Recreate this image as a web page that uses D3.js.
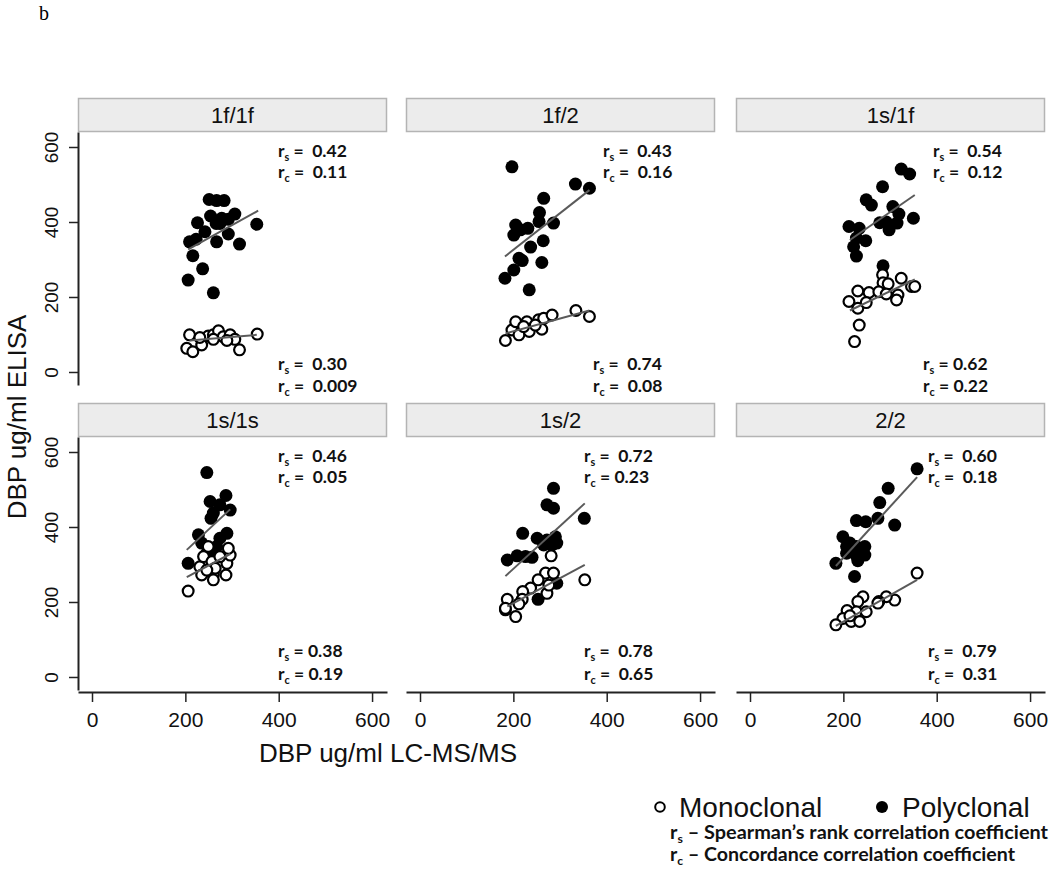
<!DOCTYPE html>
<html><head><meta charset="utf-8">
<script src="https://cdn.jsdelivr.net/npm/d3@7"></script>
<style>body{margin:0;background:#fff}text{white-space:pre}</style>
</head><body>
<svg id="c" width="1050" height="878"></svg>
<script>
// ---------------- DATA ----------------
const panels = ["1f/1f","1f/2","1s/1f","1s/1s","1s/2","2/2"];
const xTicks = [0,200,400,600];
const yTicks = [0,200,400,600];

const polyclonal = [
 [[251,460],[267,457],[283,457],[226,398],[254,416],[274,396],[292,407],[306,421],[353,394],[242,374],[209,347],[223,354],[267,347],[292,368],[316,341],[216,310],[237,275],[206,245],[260,211],[266,396],[278,410]],
 [[197,547],[333,501],[363,490],[265,463],[256,425],[255,401],[286,397],[205,392],[215,379],[231,383],[201,365],[264,350],[237,333],[212,303],[219,297],[261,292],[201,272],[182,250],[234,219]],
 [[324,541],[342,528],[284,494],[249,459],[260,445],[306,441],[319,421],[350,410],[278,398],[292,400],[315,397],[212,388],[234,383],[298,379],[248,350],[228,357],[222,334],[228,309],[285,283]],
 [[246,545],[287,484],[253,468],[274,459],[296,445],[260,437],[255,423],[289,383],[274,370],[228,379],[235,357],[253,343],[246,330],[260,321],[206,303],[267,348]],
 [[286,503],[272,459],[286,450],[352,423],[220,383],[251,370],[272,365],[290,374],[283,352],[293,357],[265,352],[187,312],[208,323],[226,321],[240,319],[253,207],[183,179],[293,250]],
 [[358,555],[296,503],[278,465],[228,417],[248,414],[274,423],[310,405],[199,374],[207,348],[214,357],[228,348],[246,348],[207,330],[228,323],[246,325],[231,310],[184,303],[224,268]]
];
const monoclonal = [
 [[209,99],[203,63],[216,54],[235,72],[249,96],[260,99],[271,110],[281,94],[296,99],[306,87],[316,59],[354,101],[231,92],[260,87],[289,84]],
 [[183,84],[197,112],[205,134],[212,99],[229,134],[234,108],[254,139],[261,114],[265,143],[283,152],[334,164],[363,148],[247,125],[222,121]],
 [[284,259],[285,238],[296,235],[324,250],[346,228],[353,228],[231,216],[255,212],[276,214],[292,208],[317,205],[314,192],[212,188],[231,170],[249,185],[234,125],[224,81]],
 [[206,229],[231,294],[235,272],[260,272],[260,259],[239,321],[257,308],[287,272],[289,303],[296,325],[292,343],[274,321],[264,290],[249,348],[246,285]],
 [[281,323],[269,277],[286,277],[253,259],[353,259],[237,237],[220,228],[272,223],[276,245],[187,207],[219,207],[212,195],[205,161],[183,183]],
 [[358,277],[310,205],[292,214],[276,201],[242,214],[231,201],[208,177],[228,174],[249,174],[199,156],[217,148],[235,148],[184,139],[214,163],[274,197]]
];
// fitted lines: [x1,y1,x2,y2]
const polyFit = [[206,327,356,430],[182,308,363,485],[214,352,353,472],[203,339,296,447],[183,269,353,463],[184,296,358,533]];
const monoFit = [[209,84,353,99],[183,103,363,164],[214,164,353,247],[203,266,296,328],[187,188,353,299],[184,136,358,259]];

const polyRs = ["0.42","0.43","0.54","0.46","0.72","0.60"];
const polyRc = ["0.11","0.16","0.12","0.05","0.23","0.18"];
const monoRs = ["0.30","0.74","0.62","0.38","0.78","0.79"];
const monoRc = ["0.009","0.08","0.22","0.19","0.65","0.31"];
const gapRs = ["  ","  ","  ","  ","  ","  "];
const gapRcTop = ["  ","  ","  ","  "," ","  "];
const gapBot = ["  ","  "," "," ","  ","  "];

// ---------------- LAYOUT ----------------
const colLeft = [78, 406, 736];
const rowTop = [132, 437];
const PW = 309, PH = 253, SH = 34;
const annX = [[200,200],[197,187],[197,187],[200,200],[178,178],[192,192]];
const annYTop = [25, 46];
const annYBot = [[238,260],[220,243]];

const svg = d3.select("#c");
const x = d3.scaleLinear().domain([-30, 632]).range([0, PW]);
const y = d3.scaleLinear().domain([-34.7, 640]).range([PH, 0]);
const SANS = "'Liberation Sans', Arial, sans-serif";
const CAL = "Lato, 'Open Sans', sans-serif";

svg.append("text").attr("x",39).attr("y",20).attr("font-family","'Liberation Serif', serif")
  .attr("font-size",20).text("b");

function label(sel, sub, gap, val){
  sel.append("tspan").text("r");
  sel.append("tspan").attr("font-size","0.62em").attr("dy",4).text(sub);
  sel.append("tspan").attr("dy",-4).text(" ="+gap+val);
}

panels.forEach((name,i)=>{
  const c = i%3, r = Math.floor(i/3);
  const g = svg.append("g").attr("transform",`translate(${colLeft[c]},${rowTop[r]})`);
  // strip
  g.append("rect").attr("x",0.5).attr("y",-SH+0.5).attr("width",PW-1).attr("height",SH-1)
    .attr("fill","#ececec").attr("stroke","#b4b4b4").attr("stroke-width",1.5);
  g.append("text").attr("x",PW/2).attr("y",-9).attr("text-anchor","middle")
    .attr("font-family",SANS).attr("font-size",22).attr("fill","#111").text(name);

  if(c===0){
    const ax = g.append("g").call(d3.axisLeft(y).tickValues(yTicks).tickSize(9).tickSizeOuter(0));
    ax.select(".domain").attr("stroke","#222").attr("stroke-width",2);
    ax.selectAll(".tick line").attr("stroke","#222").attr("stroke-width",1.5);
    ax.selectAll(".tick text").attr("x",null).attr("dy",null).attr("y",null)
      .attr("transform","translate(-20,0) rotate(-90)").attr("text-anchor","middle")
      .attr("font-family",SANS).attr("font-size",19).attr("fill","#111");
  }
  if(r===1){
    const ax = g.append("g").attr("transform",`translate(0,${PH+2})`)
      .call(d3.axisBottom(x).tickValues(xTicks).tickSize(10).tickSizeOuter(0));
    ax.select(".domain").attr("stroke","#222").attr("stroke-width",2);
    ax.selectAll(".tick line").attr("stroke","#222").attr("stroke-width",1.5);
    ax.selectAll(".tick text").attr("dy",null).attr("y",35)
      .attr("font-family",SANS).attr("font-size",21).attr("fill","#111");
  }

  g.selectAll("circle.p").data(polyclonal[i]).join("circle").attr("class","p")
    .attr("cx",d=>x(d[0])).attr("cy",d=>y(d[1])).attr("r",6.5).attr("fill","#000");
  g.selectAll("circle.m").data(monoclonal[i]).join("circle").attr("class","m")
    .attr("cx",d=>x(d[0])).attr("cy",d=>y(d[1])).attr("r",5.4)
    .attr("fill","#fff").attr("stroke","#000").attr("stroke-width",2.2);

  [polyFit[i], monoFit[i]].forEach(f=>{
    g.append("line").attr("x1",x(f[0])).attr("y1",y(f[1])).attr("x2",x(f[2])).attr("y2",y(f[3]))
      .attr("stroke","#5a5a5a").attr("stroke-width",2);
  });

  const ann = (xo, yo, sub, gap, val)=>{
    const t = g.append("text").attr("x",xo).attr("y",yo).attr("font-family",CAL)
      .attr("font-weight",700).attr("font-size",17.5).attr("fill","#111");
    label(t, sub, gap, val);
  };
  ann(annX[i][0], annYTop[0], "s", gapRs[i], polyRs[i]);
  ann(annX[i][0], annYTop[1], "c", gapRcTop[i], polyRc[i]);
  ann(annX[i][1], annYBot[r][0], "s", gapBot[i], monoRs[i]);
  ann(annX[i][1], annYBot[r][1], "c", gapBot[i], monoRc[i]);
});

// axis titles
svg.append("text").attr("transform","translate(26,417) rotate(-90)").attr("text-anchor","middle")
  .attr("font-family",SANS).attr("font-size",26).attr("fill","#111").text("DBP ug/ml ELISA");
svg.append("text").attr("x",388).attr("y",762).attr("text-anchor","middle")
  .attr("font-family",SANS).attr("font-size",26).attr("fill","#111").text("DBP ug/ml LC-MS/MS");

// legend
svg.append("circle").attr("cx",660).attr("cy",807).attr("r",4.8).attr("fill","#fff").attr("stroke","#000").attr("stroke-width",2);
svg.append("text").attr("x",679).attr("y",817).attr("font-family",SANS).attr("font-size",28).attr("fill","#111").text("Monoclonal");
svg.append("circle").attr("cx",882).attr("cy",807).attr("r",6).attr("fill","#000");
svg.append("text").attr("x",902).attr("y",817).attr("font-family",SANS).attr("font-size",28).attr("fill","#111").text("Polyclonal");

const defs = [["s"," – Spearman’s rank correlation coefficient", 839, 378],["c"," – Concordance correlation coefficient", 861, 345]];
defs.forEach(d=>{
  const t = svg.append("text").attr("x",670).attr("y",d[2]).attr("font-family",CAL)
    .attr("font-weight",700).attr("font-size",18).attr("fill","#111")
    .attr("textLength",d[3]).attr("lengthAdjust","spacingAndGlyphs");
  t.append("tspan").text("r");
  t.append("tspan").attr("font-size","0.62em").attr("dy",4).text(d[0]);
  t.append("tspan").attr("dy",-4).text(d[1]);
});
</script>
</body></html>
